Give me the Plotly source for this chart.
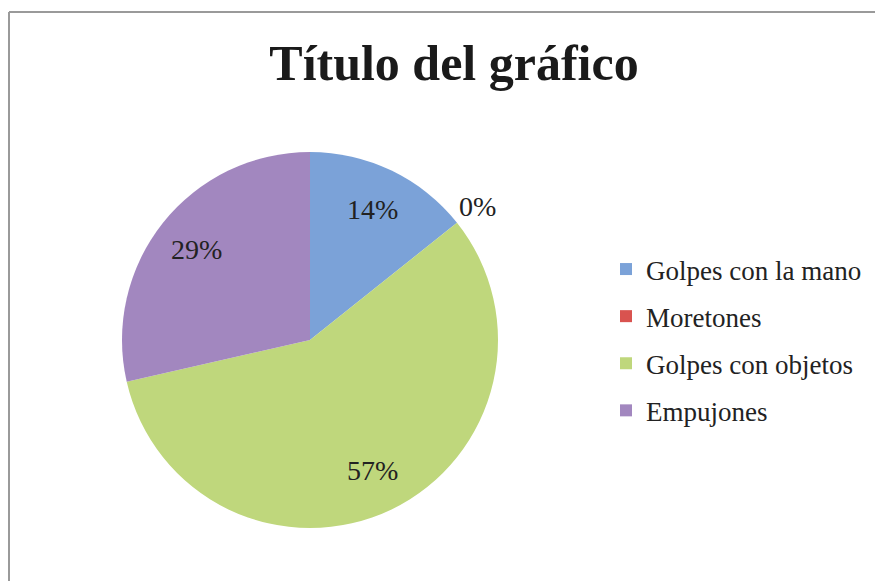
import math
import plotly.graph_objects as go

categories = ["Golpes con la mano", "Moretones", "Golpes con objetos", "Empujones"]
values = [1, 0, 4, 2]
colors = ["#7BA2D8", "#D9534F", "#BFD77C", "#A287BF"]
title_text = "Título del gráfico"

W, H = 883, 581
OFF = 8  # page body margin in the browser
cx, cy, r = 310 - OFF, 340 - OFF, 188
label_font = dict(family="Liberation Serif", size=28, color="#222222")

fig = go.Figure()
fig.add_trace(go.Pie(
    labels=categories,
    values=values,
    sort=False,
    direction="clockwise",
    rotation=0,
    marker=dict(colors=colors, line=dict(width=0)),
    textinfo="none",
    domain=dict(x=[(cx - r) / W, (cx + r) / W], y=[(H - cy - r) / H, (H - cy + r) / H]),
    showlegend=False,
    hoverinfo="label+percent",
))

# legend entries (one group each so the spacing can be set)
for cat, col in zip(categories, colors):
    fig.add_trace(go.Scatter(
        x=[None], y=[None], mode="markers", name=cat, legendgroup=cat,
        marker=dict(symbol="square", size=12, color=col),
    ))

# percentage labels placed from the data along each slice's mid angle
total = sum(values)
annotations = []
start = 0.0
for v in values:
    frac = v / total
    mid = (start + frac / 2) * 2 * math.pi
    k = 0.77 if v > 0 else 1.14
    x = cx + k * r * math.sin(mid)
    y = cy - k * r * math.cos(mid)
    annotations.append(dict(
        text=f"{round(frac * 100)}%", x=x / W, y=1 - y / H, xref="paper", yref="paper",
        showarrow=False, xanchor="center", yanchor="middle", font=label_font,
    ))
    start += frac

fig.update_layout(
    width=W, height=H,
    margin=dict(l=0, r=0, t=0, b=0),
    paper_bgcolor="white",
    plot_bgcolor="white",
    xaxis=dict(visible=False, range=[0, 1], domain=[0, 0.01]),
    yaxis=dict(visible=False, range=[0, 1], domain=[0, 0.01]),
    title=dict(text="<b>" + title_text + "</b>", x=(454 - OFF) / W, xanchor="center",
               y=1 - (62 - OFF) / H, yanchor="middle",
               font=dict(family="Liberation Serif", size=50, color="#1a1a1a")),
    legend=dict(x=(606 - OFF) / W, y=1 - (340 - OFF) / H, xanchor="left", yanchor="middle",
                font=dict(family="Liberation Serif", size=27, color="#222222"),
                tracegroupgap=9, traceorder="grouped", itemwidth=30),
    annotations=annotations,
    shapes=[
        dict(type="line", xref="paper", yref="paper", x0=(9 - OFF) / W, x1=(9 - OFF) / W,
             y0=0, y1=1 - (12 - OFF) / H, line=dict(color="#9a9a9a", width=2)),
        dict(type="line", xref="paper", yref="paper", x0=(9 - OFF) / W, x1=1,
             y0=1 - (12 - OFF) / H, y1=1 - (12 - OFF) / H, line=dict(color="#9a9a9a", width=2)),
    ],
)

fig.write_html("out.html")
